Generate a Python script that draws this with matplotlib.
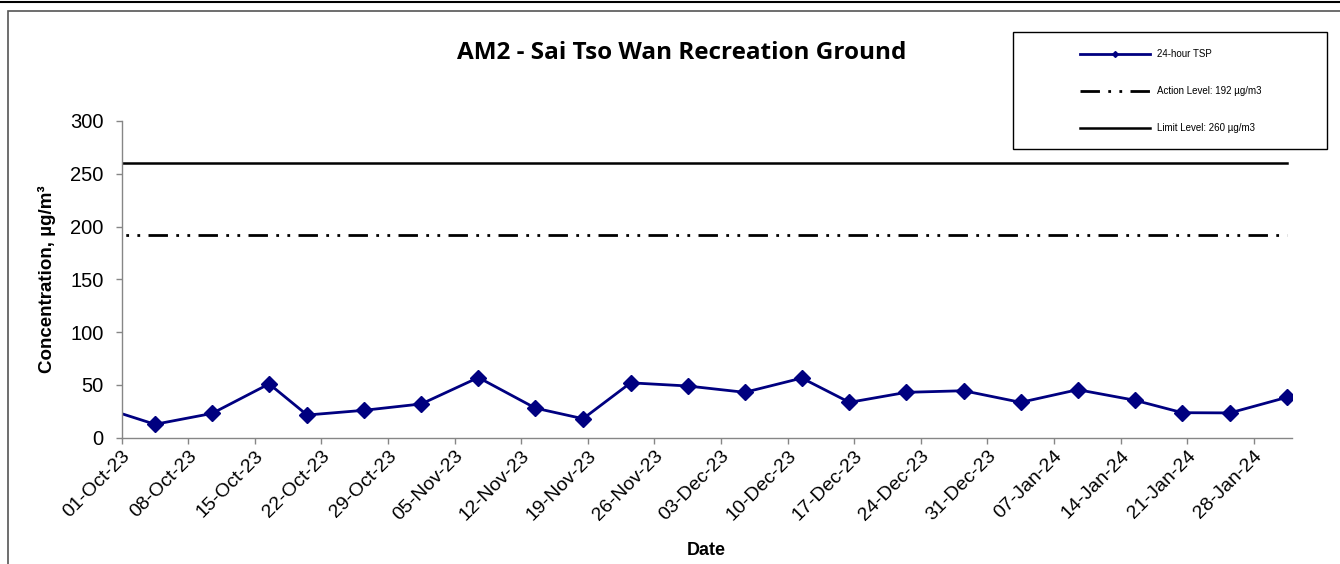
import pandas as pd
import matplotlib
matplotlib.use("Agg")
import matplotlib.pyplot as plt
import matplotlib.dates as mdates
from matplotlib.patches import Rectangle
from matplotlib.lines import Line2D

# sampling dates and 24-hour TSP results (ug/m3)
dates = ["2023-09-28", "2023-10-04", "2023-10-10", "2023-10-16", "2023-10-20",
         "2023-10-26", "2023-11-01", "2023-11-07", "2023-11-13", "2023-11-18",
         "2023-11-23", "2023-11-29", "2023-12-05", "2023-12-11", "2023-12-16",
         "2023-12-22", "2023-12-28", "2024-01-03", "2024-01-09", "2024-01-15",
         "2024-01-20", "2024-01-25", "2024-01-31"]
tsp = [30, 12.7, 23, 51, 21.5, 26, 32, 57, 28, 18, 52, 49,
       43, 56.5, 33.5, 43, 44.5, 33.5, 45.5, 35.5, 23.7, 23.5, 38.3]
action_level = 192
limit_level = 260

# excel date axis puts points in the middle of the day
x = pd.to_datetime(dates) + pd.Timedelta(hours=12)

plt.rcParams['font.family'] = ['Liberation Sans', 'DejaVu Sans']

fig = plt.figure(figsize=(13.4, 5.64), dpi=100)
ax = fig.add_axes([0.0908, 0.2239, 0.8732, 0.5616])

ax.plot(x, tsp, color='#000080', lw=2, marker='D', markersize=8.5,
        label='24-hour TSP')
ax.plot(x, [action_level] * len(x), color='black', lw=2,
        dashes=(7, 3, 1, 3, 1, 3), label='Action Level: 192 µg/m3')
ax.plot(x, [limit_level] * len(x), color='black', lw=1.8,
        label='Limit Level: 260 µg/m3')

ax.set_xlim(pd.Timestamp('2023-10-01'), pd.Timestamp('2024-02-01'))
ax.set_ylim(0, 300)
ax.set_yticks(range(0, 301, 50))
ticks = pd.date_range('2023-10-01', '2024-01-28', freq='7D')
ax.set_xticks(ticks)
ax.xaxis.set_major_formatter(mdates.DateFormatter('%d-%b-%y'))
plt.setp(ax.get_xticklabels(), rotation=45, ha='right', rotation_mode='anchor')

for s in ['top', 'right']:
    ax.spines[s].set_visible(False)
for s in ['left', 'bottom']:
    ax.spines[s].set_color('#868686')
    ax.spines[s].set_linewidth(1)
ax.tick_params(axis='both', length=4, width=1, color='#868686')
ax.tick_params(axis='x', labelsize=14, pad=3)
ax.tick_params(axis='y', labelsize=14.5, pad=9)

ax.set_ylabel('Concentration, µg/m³', fontsize=13.5, fontweight='bold', labelpad=10)
ax.set_xlabel('Date', fontsize=13, fontweight='bold', labelpad=13)

fig.text(0.509, 0.906, 'AM2 - Sai Tso Wan Recreation Ground', ha='center',
         va='center', fontsize=17.5, fontweight='bold',
         family=['Open Sans', 'DejaVu Sans'])

leg = ax.legend(loc='upper left', bbox_to_anchor=(1080 / 1340, 1 - 49 / 564),
                bbox_transform=fig.transFigure, frameon=False, fontsize=7,
                handlelength=7.2, handletextpad=0.7, labelspacing=2.8,
                borderpad=0, borderaxespad=0, markerscale=0.35)

# legend box and outer chart border
fig.add_artist(Rectangle((1013 / 1340, 1 - 149 / 564), 314 / 1340, 117 / 564,
                         transform=fig.transFigure, fill=False, ec='black', lw=1))
fig.add_artist(Rectangle((8 / 1340, -0.05), 1.2, 1 - 11 / 564 + 0.05,
                         transform=fig.transFigure, fill=False, ec='#555555', lw=1.2))
fig.add_artist(Line2D([0, 1], [1 - 1.5 / 564] * 2, transform=fig.transFigure,
                      color='black', lw=1.5))

fig.savefig('out.png', dpi=100)
